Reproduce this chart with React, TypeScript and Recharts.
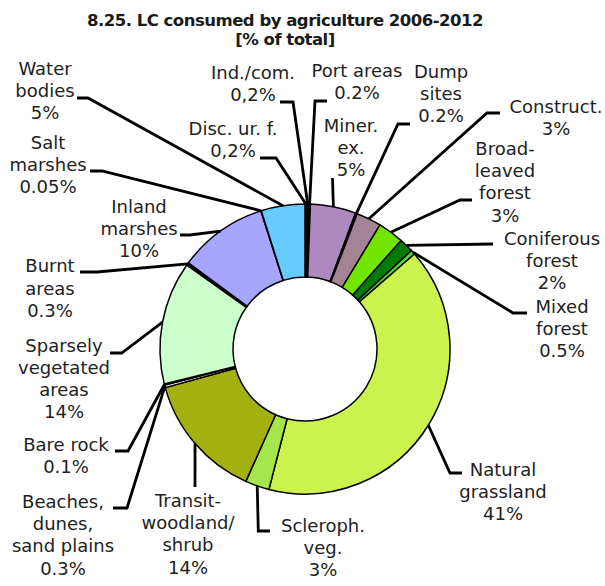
import React from "react";
import { PieChart, Pie, Cell } from "recharts";

// CLC classes consumed by agriculture 2006-2012, clockwise from 12 o'clock
const categories = [
  "Disc. ur. f.",
  "Ind./com.",
  "Port areas",
  "Miner. ex.",
  "Dump sites",
  "Construct.",
  "Broad-leaved forest",
  "Coniferous forest",
  "Mixed forest",
  "Natural grassland",
  "Scleroph. veg.",
  "Transit- woodland/shrub",
  "Beaches, dunes, sand plains",
  "Bare rock",
  "Sparsely vegetated areas",
  "Burnt areas",
  "Inland marshes",
  "Salt marshes",
  "Water bodies",
];

// % of total (share of the ring)
const shares = [0.2, 0.2, 0.2, 5.1, 0.2, 2.8, 2.9, 1.6, 0.5, 40.6, 2.7, 14.1, 0.3, 0.1, 13.8, 0.3, 10, 0.05, 4.9];

// label text as printed, one entry per line
const labelText = [
  ["Disc. ur. f.", "0,2%"],
  ["Ind./com.", "0,2%"],
  ["Port areas", "0.2%"],
  ["Miner.", "ex.", "5%"],
  ["Dump", "sites", "0.2%"],
  ["Construct.", "3%"],
  ["Broad-", "leaved", "forest", "3%"],
  ["Coniferous", "forest", "2%"],
  ["Mixed", "forest", "0.5%"],
  ["Natural", "grassland", "41%"],
  ["Scleroph.", "veg.", "3%"],
  ["Transit-", "woodland/", "shrub", "14%"],
  ["Beaches,", "dunes,", "sand plains", "0.3%"],
  ["Bare rock", "0.1%"],
  ["Sparsely", "vegetated", "areas", "14%"],
  ["Burnt", "areas", "0.3%"],
  ["Inland", "marshes", "10%"],
  ["Salt", "marshes", "0.05%"],
  ["Water", "bodies", "5%"],
];

const colors = [
  "#202020", "#202020", "#202020", "#ae89bf", "#202020", "#a38494",
  "#73e600", "#007a00", "#55dd33", "#ccf24d", "#a6e64d", "#a2b010",
  "#f0f0f0", "#dddddd", "#ccffcc", "#000000", "#a6a6ff", "#ccccff", "#66ccff",
];

// leader line bends / ends and text anchor (x centre, first baseline)
const LABEL_LAYOUT = [
  { path: [[276, 158], [260, 158]], tx: 233, ty: 135 },
  { path: [[293, 102], [280, 102]], tx: 253, ty: 79 },
  { path: [[315, 101], [327, 101]], tx: 357, ty: 77 },
  { path: [[332.5, 178]], tx: 351, ty: 131.5 },
  { path: [[398, 124], [410, 124]], tx: 441, ty: 78 },
  { path: [[487, 113], [500, 113]], tx: 556, ty: 113 },
  { path: [[460, 200], [472, 200]], tx: 505, ty: 155 },
  { path: [[493, 244]], tx: 552, ty: 245 },
  { path: [[513, 313], [527, 313]], tx: 562, ty: 313 },
  { path: [[450, 473], [462, 473]], tx: 503, ty: 476 },
  { path: [[258.3, 531], [270, 531]], tx: 323, ty: 531.5 },
  { path: [[195, 487]], tx: 188, ty: 507 },
  { path: [[127, 508], [113, 508]], tx: 63, ty: 508 },
  { path: [[128, 451], [115, 451]], tx: 66, ty: 450.5 },
  { path: [[121.7, 353], [110, 353]], tx: 64, ty: 351.5 },
  { path: [[97, 272], [80, 272]], tx: 50, ty: 272.3 },
  { path: [[190, 235], [180, 235]], tx: 139, ty: 213 },
  { path: [[102, 171], [90, 171]], tx: 48, ty: 149 },
  { path: [[88, 98], [77, 98]], tx: 45, ty: 75 },
];

const data = categories.map((name, i) => ({ name, value: shares[i] }));

const RADIAN = Math.PI / 180;
const LINE_STEP = 22.2;

const renderLabel = (props: any) => {
  const { cx, cy, midAngle, outerRadius, index } = props;
  const layout = LABEL_LAYOUT[index];
  const sx = cx + outerRadius * Math.cos(-midAngle * RADIAN);
  const sy = cy + outerRadius * Math.sin(-midAngle * RADIAN);
  const pts = [[sx, sy], ...layout.path].map((p) => p.join(",")).join(" ");
  return (
    <g key={`lbl-${index}`}>
      <polyline points={pts} fill="none" stroke="#000" strokeWidth={2.8} />
      <text
        x={layout.tx}
        textAnchor="middle"
        fill="#222"
        fontSize={18}
        fontFamily="'DejaVu Sans', Verdana, sans-serif"
      >
        {labelText[index].map((line, j) => (
          <tspan key={j} x={layout.tx} y={layout.ty + j * LINE_STEP}>
            {line}
          </tspan>
        ))}
      </text>
    </g>
  );
};

export default function App() {
  return (
    <div style={{ position: "absolute", left: 0, top: 0, width: 605, height: 586, background: "#fff" }}>
      <PieChart width={605} height={586} margin={{ top: 0, right: 0, bottom: 0, left: 0 }}>
        <Pie
          data={data}
          dataKey="value"
          nameKey="name"
          cx={305}
          cy={349}
          innerRadius={72}
          outerRadius={145}
          startAngle={90}
          endAngle={-270}
          stroke="#000"
          strokeWidth={1.5}
          label={renderLabel}
          labelLine={false}
          isAnimationActive={false}
        >
          {data.map((d, i) => (
            <Cell key={d.name} fill={colors[i]} />
          ))}
        </Pie>
      </PieChart>
      <svg
        width={605}
        height={60}
        style={{ position: "absolute", left: 0, top: 0, pointerEvents: "none" }}
      >
        <text
          x={285}
          textAnchor="middle"
          fontFamily="'DejaVu Sans', Verdana, sans-serif"
          fontWeight="bold"
          fontSize={16.5}
          letterSpacing={-0.5}
          fill="#1a1a1a"
        >
          <tspan x={285} y={26}>8.25. LC consumed by agriculture 2006-2012</tspan>
          <tspan x={285} y={45}>[% of total]</tspan>
        </text>
      </svg>
    </div>
  );
}
